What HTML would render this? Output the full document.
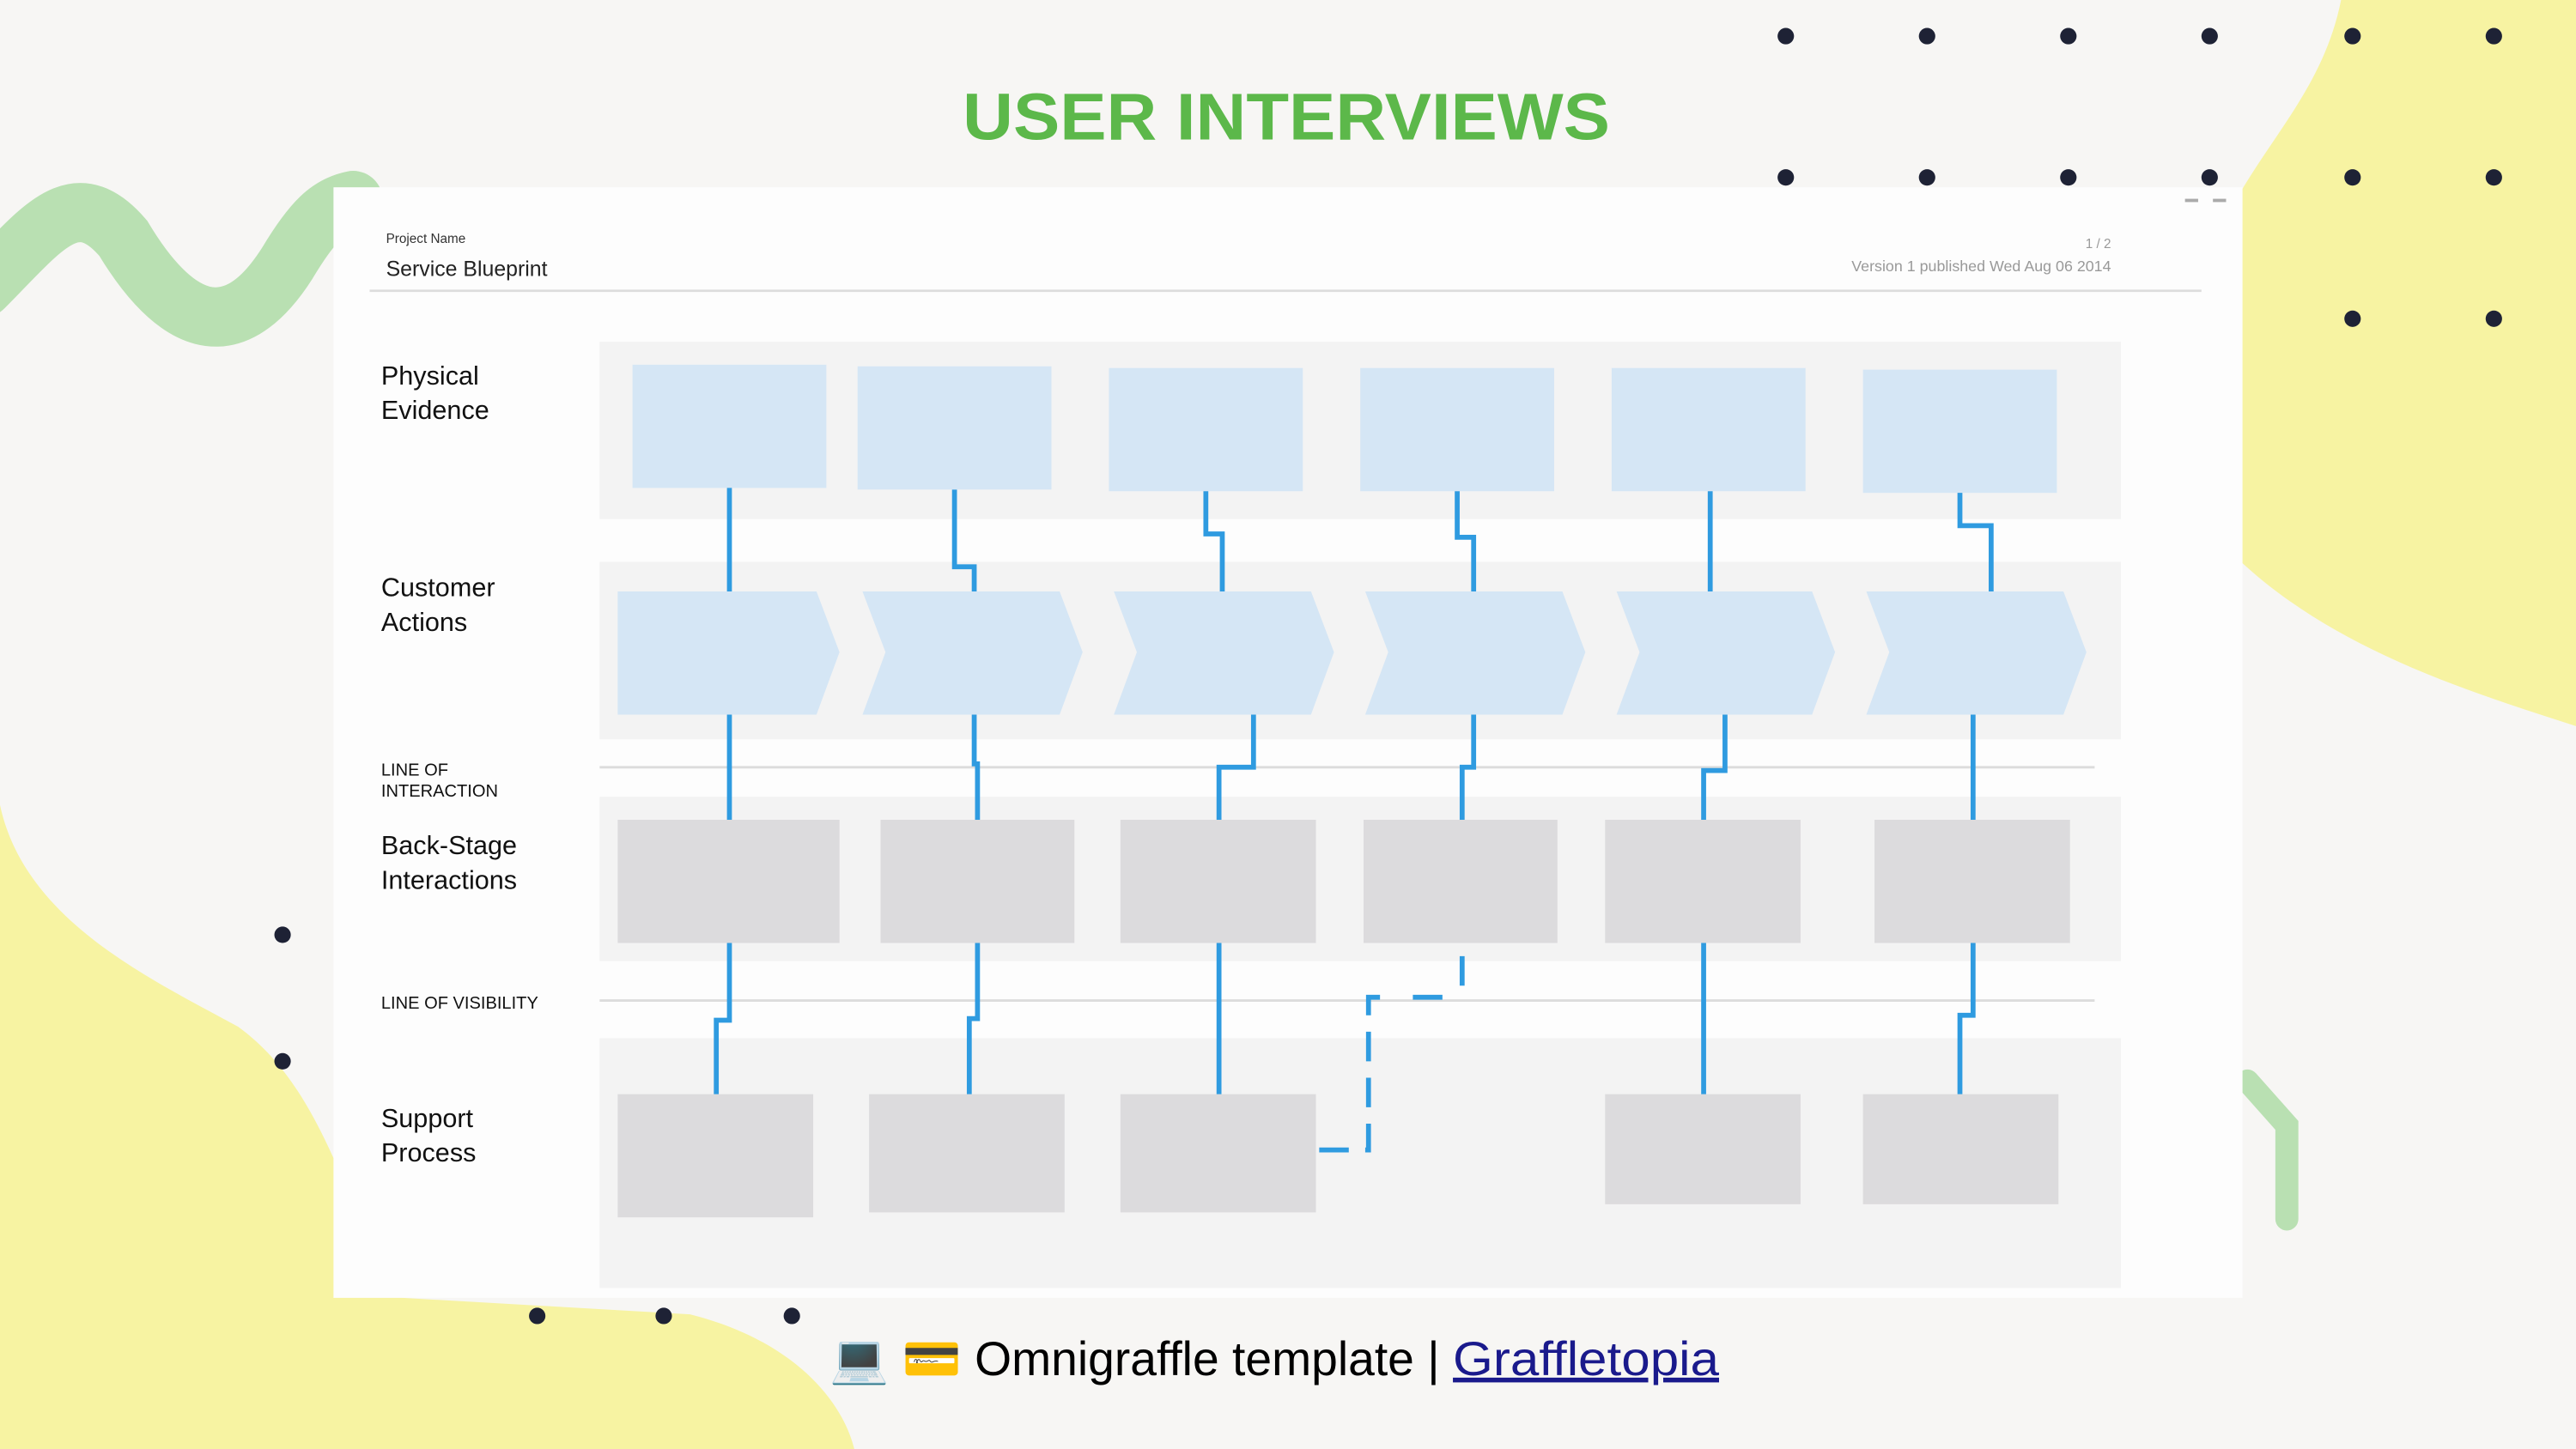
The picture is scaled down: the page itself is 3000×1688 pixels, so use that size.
<!DOCTYPE html>
<html><head><meta charset="utf-8"><style>
html,body{margin:0;padding:0;width:3000px;height:1688px;overflow:hidden;background:#f7f6f4}
svg{display:block}
</style></head><body>
<svg width="3000" height="1688" viewBox="0 0 1568 882" preserveAspectRatio="none" xmlns="http://www.w3.org/2000/svg" font-family="Liberation Sans, Arial, sans-serif">
<rect width="1568" height="882" fill="#f7f6f4"/>
<path d="M1425,0 C1415,50 1385,80 1362,120 L1362,340 C1420,395 1500,420 1568,442 L1568,0 Z" fill="#f7f3a2"/>
<path d="M0,490 C15,560 90,595 145,625 C200,665 210,740 245,790 L420,800 C480,815 512,850 520,882 L0,882 Z" fill="#f7f3a2"/>
<path d="M-10,175 C25,140 45,110 75,145 C105,195 140,215 175,160 C190,135 200,125 215,122" fill="none" stroke="#b9e0b2" stroke-width="36" stroke-linecap="round"/>
<path d="M1368,658 L1392,685 L1392,742" fill="none" stroke="#b9e0b2" stroke-width="14" stroke-linecap="round"/>
<g fill="#1e2235">
<circle cx="1087" cy="22" r="5"/><circle cx="1173" cy="22" r="5"/><circle cx="1259" cy="22" r="5"/><circle cx="1345" cy="22" r="5"/><circle cx="1432" cy="22" r="5"/><circle cx="1518" cy="22" r="5"/>
<circle cx="1087" cy="108" r="5"/><circle cx="1173" cy="108" r="5"/><circle cx="1259" cy="108" r="5"/><circle cx="1345" cy="108" r="5"/><circle cx="1432" cy="108" r="5"/><circle cx="1518" cy="108" r="5"/>
<circle cx="1432" cy="194" r="5"/><circle cx="1518" cy="194" r="5"/>
<circle cx="172" cy="569" r="5"/><circle cx="172" cy="646" r="5"/>
<circle cx="327" cy="801" r="5"/><circle cx="404" cy="801" r="5"/><circle cx="482" cy="801" r="5"/>
</g>
<text x="783" y="85" text-anchor="middle" font-size="40" font-weight="bold" fill="#5cb84a" textLength="394" lengthAdjust="spacingAndGlyphs">USER INTERVIEWS</text>
<rect x="203" y="114" width="1162" height="676" fill="#fdfdfd"/>
<rect x="1330" y="121" width="8" height="2" fill="#aaa"/><rect x="1347" y="121" width="8" height="2" fill="#aaa"/>
<text x="235" y="148" font-size="8" fill="#333">Project Name</text>
<text x="235" y="168" font-size="13" fill="#222">Service Blueprint</text>
<text x="1285" y="151" font-size="8" fill="#999" text-anchor="end">1 / 2</text>
<text x="1285" y="165" font-size="9" fill="#999" text-anchor="end" textLength="158" lengthAdjust="spacingAndGlyphs">Version 1 published Wed Aug 06 2014</text>
<line x1="225" y1="177" x2="1340" y2="177" stroke="#ddd" stroke-width="1.5"/>
<g fill="#f3f3f3">
<rect x="365" y="208" width="926" height="108"/>
<rect x="365" y="342" width="926" height="108"/>
<rect x="365" y="485" width="926" height="100"/>
<rect x="365" y="632" width="926" height="152"/>
</g>
<line x1="365" y1="467" x2="1275" y2="467" stroke="#dcdcdc" stroke-width="1.5"/>
<line x1="365" y1="609" x2="1275" y2="609" stroke="#dcdcdc" stroke-width="1.5"/>
<g font-size="16" fill="#111">
<text x="232" y="234">Physical</text><text x="232" y="255">Evidence</text>
<text x="232" y="363">Customer</text><text x="232" y="384">Actions</text>
<text x="232" y="520">Back-Stage</text><text x="232" y="541">Interactions</text>
<text x="232" y="686">Support</text><text x="232" y="707">Process</text>
</g>
<g font-size="10.5" fill="#111">
<text x="232" y="472">LINE OF</text><text x="232" y="485">INTERACTION</text>
<text x="232" y="614">LINE OF VISIBILITY</text>
</g>
<g fill="#d5e6f5">
<rect x="385" y="222" width="118" height="75"/>
<rect x="522" y="223" width="118" height="75"/>
<rect x="675" y="224" width="118" height="75"/>
<rect x="828" y="224" width="118" height="75"/>
<rect x="981" y="224" width="118" height="75"/>
<rect x="1134" y="225" width="118" height="75"/>
<polygon points="376,360 497,360 511,397 497,435 376,435"/>
<polygon points="525,360 645,360 659,397 645,435 525,435 539,397"/>
<polygon points="678,360 798,360 812,397 798,435 678,435 692,397"/>
<polygon points="831,360 951,360 965,397 951,435 831,435 845,397"/>
<polygon points="984,360 1103,360 1117,397 1103,435 984,435 998,397"/>
<polygon points="1136,360 1256,360 1270,397 1256,435 1136,435 1150,397"/>
</g>
<g fill="#dcdbdd">
<rect x="376" y="499" width="135" height="75"/>
<rect x="536" y="499" width="118" height="75"/>
<rect x="682" y="499" width="119" height="75"/>
<rect x="830" y="499" width="118" height="75"/>
<rect x="977" y="499" width="119" height="75"/>
<rect x="1141" y="499" width="119" height="75"/>
<rect x="376" y="666" width="119" height="75"/>
<rect x="529" y="666" width="119" height="72"/>
<rect x="682" y="666" width="119" height="72"/>
<rect x="977" y="666" width="119" height="67"/>
<rect x="1134" y="666" width="119" height="67"/>
</g>
<g fill="none" stroke="#2f9be0" stroke-width="3">
<path d="M444,297 V360 M444,435 V499 M444,574 V621 H436 V666"/>
<path d="M581,298 V345 H593 V360 M593,435 V465 H595 V499 M595,574 V620 H590 V666"/>
<path d="M734,299 V325 H744 V360 M763,435 V467 H742 V499 M742,574 V666"/>
<path d="M887,299 V327 H897 V360 M897,435 V467 H890 V499"/>
<path d="M1041,299 V360 M1050,435 V469 H1037 V499 M1037,574 V666"/>
<path d="M1193,300 V320 H1212 V360 M1201,435 V499 M1201,574 V618 H1193 V666"/>
<path d="M890,582 V602 M878,607 H856 M840,607 H833 V700 H801" stroke-dasharray="18,10"/>
</g>
<text x="505" y="837" font-size="29" fill="#000">💻 💳 <tspan textLength="283" lengthAdjust="spacingAndGlyphs">Omnigraffle template |</tspan> <tspan fill="#1a1a8c" text-decoration="underline" textLength="162" lengthAdjust="spacingAndGlyphs">Graffletopia</tspan></text>
</svg>
</body></html>
